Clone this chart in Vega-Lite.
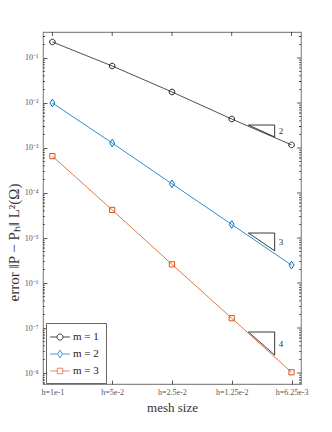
{
  "$schema": "https://vega.github.io/schema/vega-lite/v6.json",
  "width": 258,
  "height": 352,
  "autosize": "none",
  "padding": {"left": 43, "top": 32, "right": 31, "bottom": 48},
  "config": {
    "view": {"stroke": "#8a8a8a", "strokeWidth": 1.2},
    "font": "Liberation Serif",
    "axis": {"grid": false, "domain": false, "tickColor": "#333", "tickWidth": 0.8, "labelColor": "#555", "labelFont": "Liberation Serif", "labelFontSize": 8, "titleFont": "Liberation Serif", "titleFontWeight": "normal", "titleColor": "#333"}
  },
  "datasets": {
    "series": [
      {"h": 0.1, "err": 0.227, "m": "1"},
      {"h": 0.05, "err": 0.0664, "m": "1"},
      {"h": 0.025, "err": 0.0176, "m": "1"},
      {"h": 0.0125, "err": 0.0044, "m": "1"},
      {"h": 0.00625, "err": 0.00117, "m": "1"},
      {"h": 0.1, "err": 0.0100, "m": "2"},
      {"h": 0.05, "err": 0.00129, "m": "2"},
      {"h": 0.025, "err": 0.00016, "m": "2"},
      {"h": 0.0125, "err": 0.00002, "m": "2"},
      {"h": 0.00625, "err": 0.0000025, "m": "2"},
      {"h": 0.1, "err": 0.00066, "m": "3"},
      {"h": 0.05, "err": 0.000042, "m": "3"},
      {"h": 0.025, "err": 0.0000026, "m": "3"},
      {"h": 0.0125, "err": 1.65e-7, "m": "3"},
      {"h": 0.00625, "err": 1.04e-8, "m": "3"}
    ],
    "triangles": [
      {"tri": "a", "k": 1, "h": 0.0103, "err": 0.00324},
      {"tri": "a", "k": 2, "h": 0.0076, "err": 0.00324},
      {"tri": "a", "k": 3, "h": 0.0076, "err": 0.00176},
      {"tri": "a", "k": 4, "h": 0.0103, "err": 0.00324},
      {"tri": "b", "k": 1, "h": 0.0103, "err": 1.29e-5},
      {"tri": "b", "k": 2, "h": 0.0076, "err": 1.29e-5},
      {"tri": "b", "k": 3, "h": 0.0076, "err": 5.2e-6},
      {"tri": "b", "k": 4, "h": 0.0103, "err": 1.29e-5},
      {"tri": "c", "k": 1, "h": 0.0103, "err": 8.15e-8},
      {"tri": "c", "k": 2, "h": 0.0076, "err": 8.15e-8},
      {"tri": "c", "k": 3, "h": 0.0076, "err": 2.5e-8},
      {"tri": "c", "k": 4, "h": 0.0103, "err": 8.15e-8}
    ],
    "rates": [
      {"h": 0.0076, "err": 0.00239, "label": "2"},
      {"h": 0.0076, "err": 8.2e-6, "label": "3"},
      {"h": 0.0076, "err": 4.5e-8, "label": "4"}
    ],
    "leg": [
      {"series": "m = 1"},
      {"series": "m = 2"},
      {"series": "m = 3"}
    ],
    "xticks": [
      {"h": 0.1}, {"h": 0.05}, {"h": 0.025}, {"h": 0.0125}, {"h": 0.00625}
    ],
    "yticks": [
      {"v": 6e-9, "kind": "minor"}, {"v": 7e-9, "kind": "minor"}, {"v": 8e-9, "kind": "minor"}, {"v": 9e-9, "kind": "minor"},
      {"v": 1e-8, "kind": "major"}, {"v": 2e-8, "kind": "minor"}, {"v": 3e-8, "kind": "minor"}, {"v": 4e-8, "kind": "minor"}, {"v": 5e-8, "kind": "minor"}, {"v": 6e-8, "kind": "minor"}, {"v": 7e-8, "kind": "minor"}, {"v": 8e-8, "kind": "minor"}, {"v": 9e-8, "kind": "minor"},
      {"v": 1e-7, "kind": "major"}, {"v": 2e-7, "kind": "minor"}, {"v": 3e-7, "kind": "minor"}, {"v": 4e-7, "kind": "minor"}, {"v": 5e-7, "kind": "minor"}, {"v": 6e-7, "kind": "minor"}, {"v": 7e-7, "kind": "minor"}, {"v": 8e-7, "kind": "minor"}, {"v": 9e-7, "kind": "minor"},
      {"v": 1e-6, "kind": "major"}, {"v": 2e-6, "kind": "minor"}, {"v": 3e-6, "kind": "minor"}, {"v": 4e-6, "kind": "minor"}, {"v": 5e-6, "kind": "minor"}, {"v": 6e-6, "kind": "minor"}, {"v": 7e-6, "kind": "minor"}, {"v": 8e-6, "kind": "minor"}, {"v": 9e-6, "kind": "minor"},
      {"v": 1e-5, "kind": "major"}, {"v": 2e-5, "kind": "minor"}, {"v": 3e-5, "kind": "minor"}, {"v": 4e-5, "kind": "minor"}, {"v": 5e-5, "kind": "minor"}, {"v": 6e-5, "kind": "minor"}, {"v": 7e-5, "kind": "minor"}, {"v": 8e-5, "kind": "minor"}, {"v": 9e-5, "kind": "minor"},
      {"v": 1e-4, "kind": "major"}, {"v": 2e-4, "kind": "minor"}, {"v": 3e-4, "kind": "minor"}, {"v": 4e-4, "kind": "minor"}, {"v": 5e-4, "kind": "minor"}, {"v": 6e-4, "kind": "minor"}, {"v": 7e-4, "kind": "minor"}, {"v": 8e-4, "kind": "minor"}, {"v": 9e-4, "kind": "minor"},
      {"v": 1e-3, "kind": "major"}, {"v": 2e-3, "kind": "minor"}, {"v": 3e-3, "kind": "minor"}, {"v": 4e-3, "kind": "minor"}, {"v": 5e-3, "kind": "minor"}, {"v": 6e-3, "kind": "minor"}, {"v": 7e-3, "kind": "minor"}, {"v": 8e-3, "kind": "minor"}, {"v": 9e-3, "kind": "minor"},
      {"v": 0.01, "kind": "major"}, {"v": 0.02, "kind": "minor"}, {"v": 0.03, "kind": "minor"}, {"v": 0.04, "kind": "minor"}, {"v": 0.05, "kind": "minor"}, {"v": 0.06, "kind": "minor"}, {"v": 0.07, "kind": "minor"}, {"v": 0.08, "kind": "minor"}, {"v": 0.09, "kind": "minor"},
      {"v": 0.1, "kind": "major"}, {"v": 0.2, "kind": "minor"}, {"v": 0.3, "kind": "minor"}
    ]
  },
  "layer": [
    {
      "data": {"name": "series"},
      "mark": {"type": "line", "strokeWidth": 0.8},
      "encoding": {
        "x": {"field": "h", "type": "quantitative",
          "scale": {"type": "log", "domain": [0.0056, 0.1115], "reverse": true, "nice": false},
          "axis": {"orient": "bottom", "values": [0.1, 0.05, 0.025, 0.0125, 0.00625], "offset": -4, "tickSize": 4, "labelPadding": 4,
            "labelExpr": "datum.value == 0.1 ? 'h=1e-1' : datum.value == 0.05 ? 'h=5e-2' : datum.value == 0.025 ? 'h=2.5e-2' : datum.value == 0.0125 ? 'h=1.25e-2' : 'h=6.25e-3'",
            "title": "mesh size", "titleFontSize": 13, "titleY": 27, "titleBaseline": "middle"}},
        "y": {"field": "err", "type": "quantitative",
          "scale": {"type": "log", "domain": [5.7e-9, 0.378], "nice": false},
          "axis": {"orient": "left", "offset": -4, "tickSize": 4,
            "values": [1e-8, 1e-7, 1e-6, 1e-5, 1e-4, 1e-3, 0.01, 0.1],
            "labelPadding": 5,
            "labelExpr": "'10' + ['⁻⁹','⁻⁸','⁻⁷','⁻⁶','⁻⁵','⁻⁴','⁻³','⁻²','⁻¹'][round(log(datum.value)/LN10) + 9]",
            "title": "error ‖P − Pₕ‖ L²(Ω)", "titleFontSize": 15, "titleX": -34, "titleY": 210, "titleBaseline": "middle", "titleAngle": -90}},
        "color": {"field": "m", "type": "nominal", "scale": {"domain": ["1", "2", "3"], "range": ["#222222", "#0072BD", "#D95319"]}, "legend": null}
      }
    },
    {
      "data": {"name": "series"},
      "mark": {"type": "point", "filled": false, "strokeWidth": 1, "size": 64, "opacity": 1},
      "encoding": {
        "x": {"field": "h", "type": "quantitative", "axis": null},
        "y": {"field": "err", "type": "quantitative", "axis": null},
        "color": {"field": "m", "type": "nominal", "scale": {"domain": ["1", "2", "3"], "range": ["#222222", "#0072BD", "#D95319"]}, "legend": null},
        "shape": {"field": "m", "type": "nominal", "legend": null,
          "scale": {"domain": ["1", "2", "3"], "range": [
            "M0.7,0A0.7,0.7 0 1,1 -0.7,0A0.7,0.7 0 1,1 0.7,0Z",
            "M0,-0.95L0.62,0L0,0.95L-0.62,0Z",
            "M-0.65,-0.65H0.65V0.65H-0.65Z"]}}
      }
    },
    {
      "data": {"name": "triangles"},
      "mark": {"type": "line", "stroke": "#222", "strokeWidth": 0.9},
      "encoding": {
        "x": {"field": "h", "type": "quantitative", "axis": null},
        "y": {"field": "err", "type": "quantitative", "axis": null},
        "detail": {"field": "tri", "type": "nominal"},
        "order": {"field": "k", "type": "quantitative"}
      }
    },
    {
      "data": {"name": "rates"},
      "mark": {"type": "text", "align": "left", "baseline": "middle", "dx": 4, "fontSize": 9, "fill": "#333", "font": "Liberation Serif"},
      "encoding": {
        "x": {"field": "h", "type": "quantitative", "axis": null},
        "y": {"field": "err", "type": "quantitative", "axis": null},
        "text": {"field": "label"}
      }
    },
    {
      "data": {"name": "yticks"},
      "mark": {"type": "tick", "orient": "horizontal", "clip": true, "color": "#333", "thickness": 0.8, "opacity": 1},
      "encoding": {
        "x": {"datum": 0.0056, "type": "quantitative", "axis": null},
        "y": {"field": "v", "type": "quantitative", "axis": null},
        "size": {"field": "kind", "type": "nominal", "scale": {"domain": ["major", "minor"], "range": [8, 4]}, "legend": null}
      }
    },
    {
      "data": {"name": "yticks"},
      "transform": [{"filter": "datum.kind == 'minor'"}],
      "mark": {"type": "tick", "orient": "horizontal", "clip": true, "color": "#333", "thickness": 0.8, "size": 4, "opacity": 1},
      "encoding": {
        "x": {"datum": 0.1115, "type": "quantitative", "axis": null},
        "y": {"field": "v", "type": "quantitative", "axis": null}
      }
    },
    {
      "data": {"name": "xticks"},
      "mark": {"type": "tick", "orient": "vertical", "clip": true, "color": "#333", "thickness": 0.8, "size": 8, "opacity": 1},
      "encoding": {
        "x": {"field": "h", "type": "quantitative", "axis": null},
        "y": {"datum": 0.378, "type": "quantitative", "axis": null}
      }
    },
    {
      "data": {"name": "leg"},
      "mark": {"type": "point", "filled": false, "opacity": 0},
      "encoding": {
        "color": {"field": "series", "type": "nominal",
          "scale": {"domain": ["m = 1", "m = 2", "m = 3"], "range": ["#444444", "#4a9ad4", "#e68a60"]},
          "legend": {"title": null, "orient": "none", "legendX": 3, "legendY": 291, "symbolSize": 150, "symbolOpacity": 1, "symbolStrokeWidth": 1,
            "labelFont": "Liberation Serif", "labelFontSize": 11, "labelColor": "#222", "labelOffset": 6,
            "padding": 7, "strokeColor": "#666", "fillColor": "white", "rowPadding": 4}},
        "shape": {"field": "series", "type": "nominal",
          "scale": {"domain": ["m = 1", "m = 2", "m = 3"], "range": [
            "M-1.6,0H-0.5M0.5,0H1.6M0.5,0A0.5,0.5 0 1,1 -0.5,0A0.5,0.5 0 1,1 0.5,0Z",
            "M-1.6,0H-0.4M0.4,0H1.6M0,-0.65L0.4,0L0,0.65L-0.4,0Z",
            "M-1.6,0H-0.45M0.45,0H1.6M-0.45,-0.45H0.45V0.45H-0.45Z"]}}
      }
    }
  ],
  "resolve": {
    "scale": {"color": "independent", "shape": "independent"},
    "axis": {"x": "independent", "y": "independent"}
  }
}
